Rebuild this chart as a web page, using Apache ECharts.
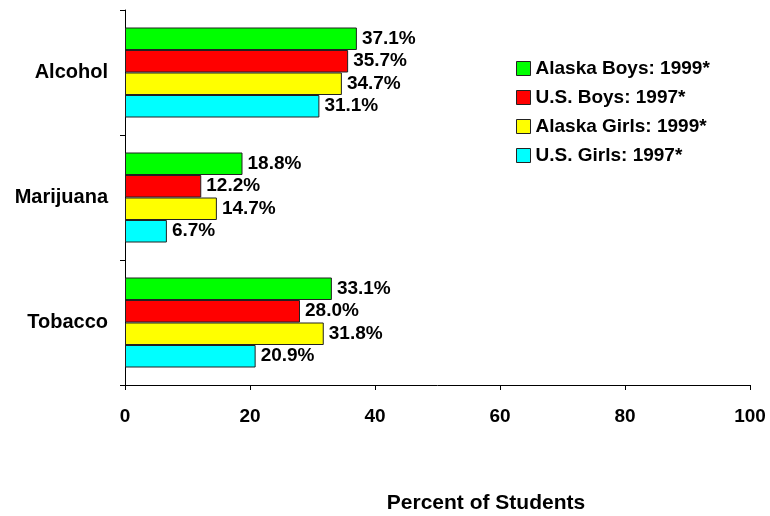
<!DOCTYPE html>
<html>
<head>
<meta charset="utf-8">
<script src="https://cdn.jsdelivr.net/npm/echarts@6/dist/echarts.min.js"></script>
<style>
  html, body { margin: 0; padding: 0; background: #fff; }
  #chart { width: 770px; height: 516px; }
</style>
</head>
<body>
<div id="chart"></div>
<script>
// categories top to bottom
var substances = ['Alcohol', 'Marijuana', 'Tobacco'];
var seriesNames = ['Alaska Boys: 1999*', 'U.S. Boys: 1997*', 'Alaska Girls: 1999*', 'U.S. Girls: 1997*'];
var alaskaBoys = [37.1, 18.8, 33.1];
var usBoys = [35.7, 12.2, 28.0];
var alaskaGirls = [34.7, 14.7, 31.8];
var usGirls = [31.1, 6.7, 20.9];
var colors = ['#00ff00', '#ff0000', '#ffff00', '#00ffff'];

var FONT = '"Liberation Sans", Arial, sans-serif';
var chart = echarts.init(document.getElementById('chart'), null, { renderer: 'canvas' });

var allData = [alaskaBoys, usBoys, alaskaGirls, usGirls];
var series = [];
for (var i = 0; i < allData.length; i++) {
  series.push({
    name: seriesNames[i],
    type: 'bar',
    data: allData[i],
    barCategoryGap: '28%',
    barGap: '0%',
    itemStyle: { color: colors[i], borderColor: '#222', borderWidth: 1 },
    label: {
      show: true,
      position: 'right',
      distance: 5,
      formatter: function (p) { return p.value.toFixed(1) + '%'; },
      color: '#000',
      fontFamily: FONT,
      fontWeight: 'bold',
      fontSize: 19
    }
  });
}

chart.setOption({
  animation: false,
  backgroundColor: '#fff',
  grid: { left: 125, right: 20, top: 10, bottom: 131 },
  legend: {
    orient: 'vertical',
    left: 511,
    top: 54,
    itemWidth: 14,
    itemHeight: 14,
    itemGap: 10,
    icon: 'rect',
    itemStyle: { borderColor: '#222', borderWidth: 1 },
    textStyle: { fontFamily: FONT, fontWeight: 'bold', fontSize: 19, color: '#000' },
    data: seriesNames
  },
  xAxis: {
    type: 'value',
    min: 0,
    max: 100,
    interval: 20,
    splitLine: { show: false },
    axisLine: { show: true, lineStyle: { color: '#000' } },
    axisTick: { show: true, length: 5, lineStyle: { color: '#000' } },
    axisLabel: { margin: 22, color: '#000', fontFamily: FONT, fontWeight: 'bold', fontSize: 19 }
  },
  yAxis: {
    type: 'category',
    inverse: true,
    data: substances,
    axisLine: { show: true, lineStyle: { color: '#000' } },
    axisTick: { show: true, length: 5, lineStyle: { color: '#000' } },
    axisLabel: { margin: 17, color: '#000', fontFamily: FONT, fontWeight: 'bold', fontSize: 20 }
  },
  graphic: [{
    type: 'text',
    x: 486,
    y: 503,
    style: {
      text: 'Percent of Students',
      fill: '#000',
      font: 'bold 21px ' + FONT,
      textAlign: 'center',
      textVerticalAlign: 'middle'
    }
  }],
  series: series
});
</script>
</body>
</html>
